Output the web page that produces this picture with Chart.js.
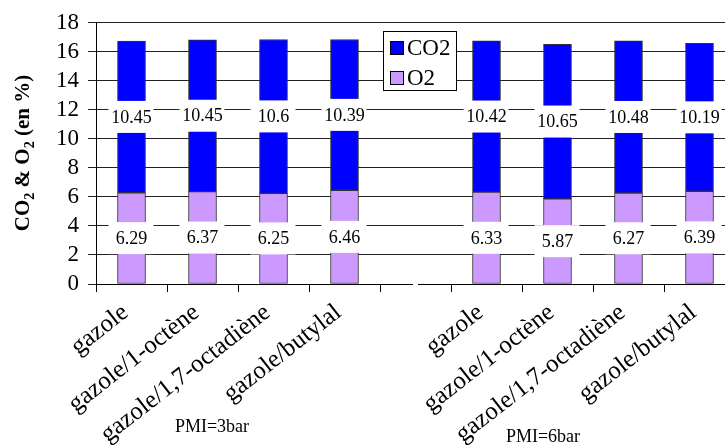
<!DOCTYPE html>
<html lang="fr">
<head>
<meta charset="utf-8">
<title>CO2 &amp; O2 (en %)</title>
<script src="https://cdn.jsdelivr.net/npm/chart.js@4.4.1/dist/chart.umd.min.js"></script>
<style>
  html, body { margin: 0; padding: 0; background: #fff; overflow: hidden; }
  #zone { width: 736px; height: 445px; }
</style>
</head>
<body>
<div id="zone"><canvas id="grafico" width="736" height="445"></canvas></div>
<script>
// Catégories (la 5e est vide pour séparer les deux groupes)
const categories = ['gazole', 'gazole/1-octène', 'gazole/1,7-octadiène', 'gazole/butylal', '',
  'gazole', 'gazole/1-octène', 'gazole/1,7-octadiène', 'gazole/butylal'];
const valeursO2 = [6.29, 6.37, 6.25, 6.46, null, 6.33, 5.87, 6.27, 6.39];   // O2 (en %)
const valeursCO2 = [10.45, 10.45, 10.6, 10.39, null, 10.42, 10.65, 10.48, 10.19]; // CO2 (en %)
const groupes = ['PMI=3bar', 'PMI=6bar'];
const graduationsY = [0, 18, 2]; // min, max, pas

const police = "'Liberation Serif', 'Times New Roman', serif";

// Valeurs dans des cases blanches au milieu de chaque segment
const etiquettes = {
  id: 'etiquettes',
  afterDatasetsDraw(chart) {
    const ctx = chart.ctx;
    ctx.save();
    ctx.font = '18px ' + police;
    ctx.textAlign = 'center';
    ctx.textBaseline = 'middle';
    chart.data.datasets.forEach(function (ds, i) {
      chart.getDatasetMeta(i).data.forEach(function (barre, j) {
        const v = ds.data[j];
        if (v == null) return;
        const milieu = (barre.y + barre.base) / 2;
        ctx.fillStyle = '#fff';
        ctx.fillRect(barre.x - 23, milieu - 16, 45, 32);
        ctx.fillStyle = '#000';
        ctx.fillText(String(v), barre.x, milieu + 1);
      });
    });
    ctx.restore();
  }
};

// Titre de l'axe Y avec indices, légende encadrée, noms des groupes
const decor = {
  id: 'decor',
  afterDraw(chart) {
    const ctx = chart.ctx;
    const zone = chart.chartArea;
    ctx.save();

    // petite coupure de l'axe X
    ctx.fillStyle = '#fff';
    ctx.fillRect(413, zone.bottom - 2, 5, 4);

    // titre Y
    const morceaux = [['CO', false], ['2', true], [' & O', false], ['2', true], [' (en %)', false]];
    const fNormal = 'bold 21px ' + police;
    const fIndice = 'bold 14px ' + police;
    let total = 0;
    morceaux.forEach(function (m) {
      ctx.font = m[1] ? fIndice : fNormal;
      total += ctx.measureText(m[0]).width;
    });
    ctx.translate(29, 153);
    ctx.rotate(-Math.PI / 2);
    ctx.fillStyle = '#000';
    ctx.textBaseline = 'alphabetic';
    let x = -total / 2;
    morceaux.forEach(function (m) {
      ctx.font = m[1] ? fIndice : fNormal;
      ctx.fillText(m[0], x, m[1] ? 5 : 0);
      x += ctx.measureText(m[0]).width;
    });
    ctx.setTransform(1, 0, 0, 1, 0, 0);

    // légende
    ctx.fillStyle = '#fff';
    ctx.fillRect(383, 31, 74, 60);
    ctx.strokeStyle = '#000';
    ctx.lineWidth = 1;
    ctx.strokeRect(383.5, 31.5, 73, 59);
    const ordre = [1, 0]; // CO2 puis O2
    ctx.font = '23px ' + police;
    ctx.textBaseline = 'middle';
    ordre.forEach(function (i, k) {
      const ds = chart.data.datasets[i];
      const y = 48 + k * 30;
      ctx.fillStyle = ds.backgroundColor;
      ctx.fillRect(390, y - 7, 14, 14);
      ctx.strokeStyle = '#000';
      ctx.strokeRect(390.5, y - 6.5, 13, 13);
      ctx.fillStyle = '#000';
      ctx.fillText(ds.label, 407, y + 1);
    });

    // noms des groupes
    ctx.font = '18px ' + police;
    ctx.textAlign = 'center';
    ctx.fillText(groupes[0], 212, 427);
    ctx.fillText(groupes[1], 543, 437);
    ctx.restore();
  }
};

const ctx = document.getElementById('grafico').getContext('2d');
window.chart = new Chart(ctx, {
  type: 'bar',
  data: {
    labels: categories,
    datasets: [
      { label: 'O2', data: valeursO2, backgroundColor: '#CC99FF', borderColor: '#333', borderWidth: 1, borderSkipped: false, barThickness: 28 },
      { label: 'CO2', data: valeursCO2, backgroundColor: '#0000FF', borderColor: '#333', borderWidth: 1, borderSkipped: false, barThickness: 28 }
    ]
  },
  options: {
    responsive: false,
    animation: false,
    layout: { padding: { top: 22, right: 1, left: 0, bottom: 0 } },
    plugins: { legend: { display: false }, tooltip: { enabled: false } },
    scales: {
      x: {
        stacked: true,
        offset: true,
        grid: { offset: true, drawOnChartArea: false, color: '#000', tickLength: 8 },
        border: { color: '#000' },
        ticks: { autoSkip: false, minRotation: 38, maxRotation: 38, labelOffset: -6, color: '#000', padding: 6, font: { family: police, size: 25 } },
        afterFit: function (s) { s.height = 161; }
      },
      y: {
        stacked: true,
        min: graduationsY[0],
        max: graduationsY[1],
        grid: { color: '#222', tickLength: 8 },
        border: { color: '#000' },
        ticks: { stepSize: graduationsY[2], autoSkip: false, color: '#000', padding: 9, font: { family: police, size: 23 } },
        afterFit: function (s) { s.width = 96; }
      }
    }
  },
  plugins: [etiquettes, decor]
});
</script>
</body>
</html>
